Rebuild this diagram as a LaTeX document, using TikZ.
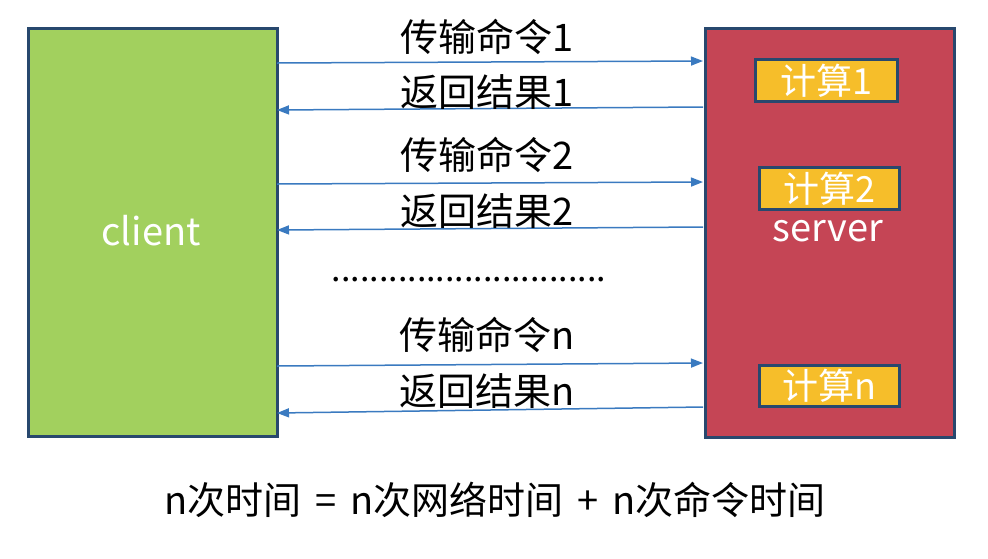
\documentclass[tikz,border=0pt]{standalone}
\usepackage{fontspec}
\setmainfont{Noto Sans CJK SC}
\usetikzlibrary{arrows.meta}
\definecolor{cgreen}{RGB}{162,208,94}
\definecolor{cred}{RGB}{197,69,85}
\definecolor{cyellow}{RGB}{246,190,42}
\definecolor{cborder}{RGB}{40,72,110}
\definecolor{carrow}{RGB}{58,122,192}
\tikzset{
  big/.style={draw=cborder, line width=3pt, inner sep=0pt, anchor=north west},
  calc/.style={draw=cborder, line width=3pt, fill=cyellow, text=white, inner sep=0pt, anchor=north west, font=\fontsize{36}{38}\selectfont},
  lbl/.style={font=\fontsize{38}{40}\selectfont, text=black, inner sep=0pt},
  arr/.style={draw=carrow, line width=1.5pt, -{Triangle[length=12pt,width=9pt]}},
}
\begin{document}
\begin{tikzpicture}[x=1pt,y=-1pt]
\useasboundingbox[fill=white] (0,0) rectangle (988,558);
\node[big, fill=cgreen, minimum width=249pt, minimum height=408pt] (client) at (27,27) {};
\node[big, fill=cred, minimum width=249pt, minimum height=409pt] (server) at (704,27) {};
\node[text=white, font=\fontsize{38}{40}\selectfont] (clientlbl) at (151,231) {client};
\node[text=white, font=\fontsize{38}{40}\selectfont] (serverlbl) at (828,231) {server};
\node[calc, minimum width=142pt, minimum height=42pt] (k1) at (754,58) {计算1};
\node[calc, minimum width=140pt, minimum height=42pt] (k2) at (758,166) {计算2};
\node[calc, minimum width=140pt, minimum height=41pt] (kn) at (758,364) {计算n};
% connector end points on the box edges
\coordinate (c1) at (277,63); \coordinate (s1) at (703,61);
\coordinate (s1b) at (703,107); \coordinate (c1b) at (277,110);
\coordinate (c2) at (277,184); \coordinate (s2) at (703,182);
\coordinate (s2b) at (703,227); \coordinate (c2b) at (277,230);
\coordinate (cn) at (277,366); \coordinate (sn) at (703,363);
\coordinate (snb) at (703,407); \coordinate (cnb) at (277,413);
\draw[arr] (c1) -- (s1);
\draw[arr] (s1b) -- (c1b);
\draw[arr] (c2) -- (s2);
\draw[arr] (s2b) -- (c2b);
\draw[arr] (cn) -- (sn);
\draw[arr] (snb) -- (cnb);
\node[lbl] (t1) at (487,37) {传输命令1};
\node[lbl] (r1) at (487,92) {返回结果1};
\node[lbl] (t2) at (487,155) {传输命令2};
\node[lbl] (r2) at (487,211) {返回结果2};
\node[font=\fontsize{34}{36}\selectfont, inner sep=0pt] (dots) at (469,280) {.............................};
\node[lbl] (tn) at (487,335) {传输命令n};
\node[lbl] (rn) at (487,391) {返回结果n};
\node[lbl] (formula) at (495,500) {n次时间\hspace{14pt}=\hspace{14pt}n次网络时间\hspace{14pt}+\hspace{14pt}n次命令时间};
\end{tikzpicture}
\end{document}
